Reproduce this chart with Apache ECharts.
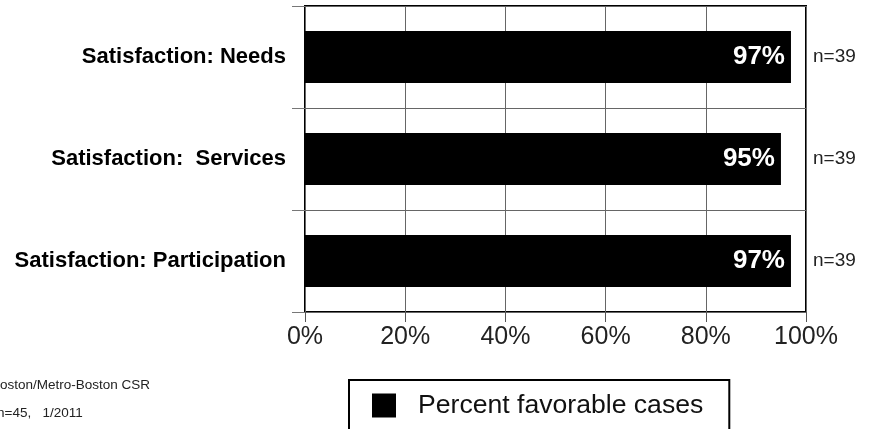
<!DOCTYPE html>
<html>
<head>
<meta charset="utf-8">
<script src="https://cdn.jsdelivr.net/npm/echarts@6/dist/echarts.min.js"></script>
<style>html,body{margin:0;padding:0;background:#fff;}#c{width:871px;height:429px;}</style>
</head>
<body>
<div id="c"></div>
<script>
const categories = ['Satisfaction: Needs', 'Satisfaction:  Services', 'Satisfaction: Participation'];
const percentFavorable = [97, 95, 97];
const nLabels = ['n=39', 'n=39', 'n=39'];
const xTicks = [0, 20, 40, 60, 80, 100];
const seriesName = 'Percent favorable cases';
const footnotes = ['Boston/Metro-Boston CSR', 'n=45,   1/2011'];

const chart = echarts.init(document.getElementById('c'), null, {renderer: 'canvas'});
chart.setOption({
  animation: false,
  backgroundColor: '#fff',
  grid: {left: 305, right: 65, top: 6, bottom: 117, show: true, borderColor: '#000', borderWidth: 2, containLabel: false},
  xAxis: {
    type: 'value', min: xTicks[0], max: xTicks[xTicks.length - 1], interval: 20,
    axisLine: {show: false},
    axisTick: {show: true, length: 10, lineStyle: {color: '#555', width: 1}},
    splitLine: {show: true, lineStyle: {color: '#666', width: 1}},
    axisLabel: {formatter: '{value}%', fontSize: 25, color: '#222', margin: 13, fontFamily: 'Liberation Sans, Arial'}
  },
  yAxis: [{
    type: 'category', data: categories, inverse: true,
    axisLine: {show: false},
    axisTick: {show: true, length: 13, lineStyle: {color: '#777', width: 1}},
    splitLine: {show: true, lineStyle: {color: '#666', width: 1}},
    axisLabel: {fontSize: 22, fontWeight: 'bold', color: '#000', margin: 19, fontFamily: 'Liberation Sans, Arial'}
  }, {
    type: 'category', data: nLabels, inverse: true, position: 'right',
    axisLine: {show: false}, axisTick: {show: false}, splitLine: {show: false},
    axisLabel: {fontSize: 19, color: '#222', margin: 7, fontFamily: 'Liberation Sans, Arial'}
  }],
  legend: {
    show: true, left: 349, top: 380,
    padding: [12, 26, 20, 23],
    borderColor: '#000', borderWidth: 2,
    itemWidth: 24, itemHeight: 24,
    icon: 'rect',
    textStyle: {fontSize: 26.6, color: '#111', fontFamily: 'Liberation Sans, Arial', padding: [0, 0, 0, 17]},
    data: [seriesName]
  },
  series: [{
    name: seriesName, type: 'bar', data: percentFavorable, yAxisIndex: 0,
    barWidth: 52,
    itemStyle: {color: '#000'},
    label: {show: true, position: 'insideRight', distance: 6, formatter: '{c}%', color: '#fff', fontSize: 26, fontWeight: 'bold', fontFamily: 'Liberation Sans, Arial'}
  }],
  graphic: [
    {type: 'text', left: -9, top: 378, style: {text: footnotes[0], fontSize: 13.5, fill: '#222', fontFamily: 'Liberation Sans, Arial'}},
    {type: 'text', left: -3, top: 406, style: {text: footnotes[1], fontSize: 13.5, fill: '#222', fontFamily: 'Liberation Sans, Arial'}}
  ]
});
</script>
</body>
</html>
